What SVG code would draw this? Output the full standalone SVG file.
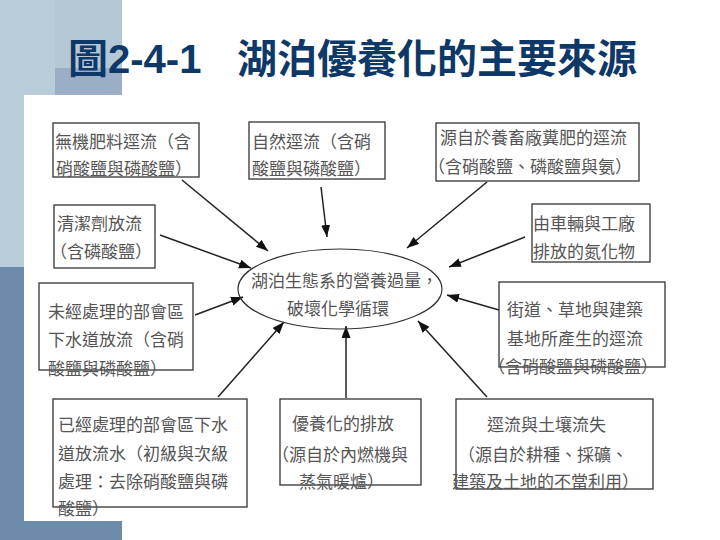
<svg xmlns="http://www.w3.org/2000/svg" width="720" height="540" viewBox="0 0 720 540">
<style>
.box{fill:none;stroke:#333;stroke-width:1.3}
.t{font-family:"Noto Sans CJK TC","Noto Sans CJK SC",sans-serif;font-size:17px;fill:#555}
.c{stroke:#222;stroke-width:1.5;fill:none;marker-end:url(#ah)}
.title{font-family:"Liberation Sans","Noto Sans CJK TC",sans-serif;font-size:40px;font-weight:bold;fill:#0d3867}
</style>
<defs>
<marker id="ah" markerUnits="userSpaceOnUse" markerWidth="13" markerHeight="10" refX="12" refY="4.5" orient="auto">
<path d="M0,0 L12,4.5 L0,9 z" fill="#111"/>
</marker>
</defs>
<g id="background">
<rect x="0" y="0" width="720" height="540" fill="#ffffff"/>
<rect x="0" y="0" width="55" height="267" fill="#b9ccd9"/>
<rect x="55" y="0" width="67" height="68" fill="#b4c7d4"/>
<rect x="55" y="68" width="67" height="30" fill="#9aafc6"/>
<rect x="0" y="267" width="24" height="273" fill="#6d8cab"/>
<rect x="0" y="521" width="122" height="19" fill="#6d8cab"/>
<rect x="24" y="95" width="696" height="426" fill="#ffffff"/>
</g>
<g id="title">
<text class="title" x="68" y="73">圖2-4-1</text>
<text class="title" x="237" y="73">湖泊優養化的主要來源</text>
</g>
<g id="connectors">
<line class="c" x1="182" y1="180" x2="268" y2="251"/>
<line class="c" x1="321" y1="187" x2="327" y2="237"/>
<line class="c" x1="160" y1="235" x2="251" y2="268"/>
<line class="c" x1="487" y1="182" x2="407" y2="248"/>
<line class="c" x1="525" y1="237" x2="449" y2="267"/>
<line class="c" x1="499" y1="310" x2="447" y2="295"/>
<line class="c" x1="487" y1="397" x2="418" y2="321"/>
<line class="c" x1="346" y1="398" x2="346" y2="326"/>
<line class="c" x1="218" y1="397" x2="284" y2="322"/>
<line class="c" x1="195" y1="315" x2="243" y2="297"/>
</g>
<g id="center">
<ellipse cx="340" cy="289" rx="102" ry="40" fill="none" stroke="#333" stroke-width="1.2"/>
<text class="t" x="251" y="287">湖泊生態系的營養過量，</text>
<text class="t" x="287" y="315">破壞化學循環</text>
</g>
<g id="n1">
<rect class="box" x="53" y="123" width="146" height="54"/>
<text class="t" x="55" y="148">無機肥料逕流（含</text>
<text class="t" x="56" y="175">硝酸鹽與磷酸鹽）</text>
</g>
<g id="n2">
<rect class="box" x="249" y="122" width="136" height="57"/>
<text class="t" x="252" y="148">自然逕流（含硝</text>
<text class="t" x="252" y="175">酸鹽與磷酸鹽）</text>
</g>
<g id="n3">
<rect class="box" x="436" y="123" width="203" height="58"/>
<text class="t" x="440" y="144">源自於養畜廠糞肥的逕流</text>
<text class="t" x="428" y="173">（含硝酸鹽、磷酸鹽與氨）</text>
</g>
<g id="n4">
<rect class="box" x="532" y="204" width="118" height="58"/>
<text class="t" x="533" y="230">由車輛與工廠</text>
<text class="t" x="533" y="258">排放的氮化物</text>
</g>
<g id="n5">
<rect class="box" x="54" y="205" width="101" height="63"/>
<text class="t" x="57" y="230">清潔劑放流</text>
<text class="t" x="50" y="258">（含磷酸鹽）</text>
</g>
<g id="n6">
<rect class="box" x="39" y="283" width="154" height="87"/>
<text class="t" x="48" y="318">未經處理的部會區</text>
<text class="t" x="48" y="346">下水道放流（含硝</text>
<text class="t" x="48" y="375">酸鹽與磷酸鹽）</text>
</g>
<g id="n7">
<rect class="box" x="53" y="399" width="194" height="108"/>
<text class="t" x="58" y="431">已經處理的部會區下水</text>
<text class="t" x="58" y="460">道放流水（初級與次級</text>
<text class="t" x="58" y="488">處理：去除硝酸鹽與磷</text>
<text class="t" x="58" y="515">酸鹽）</text>
</g>
<g id="n8">
<rect class="box" x="280" y="399" width="141" height="86"/>
<text class="t" x="292" y="430">優養化的排放</text>
<text class="t" x="272" y="461">（源自於內燃機與</text>
<text class="t" x="299" y="488">蒸氣暖爐）</text>
</g>
<g id="n9">
<rect class="box" x="456" y="399" width="197" height="90"/>
<text class="t" x="487" y="431">逕流與土壤流失</text>
<text class="t" x="458" y="461">（源自於耕種、採礦、</text>
<text class="t" x="452" y="488">建築及土地的不當利用）</text>
</g>
<g id="n10">
<rect class="box" x="499" y="282" width="166" height="85"/>
<text class="t" x="507" y="316">街道、草地與建築</text>
<text class="t" x="507" y="345">基地所產生的逕流</text>
<text class="t" x="488" y="373">（含硝酸鹽與磷酸鹽）</text>
</g>
</svg>
